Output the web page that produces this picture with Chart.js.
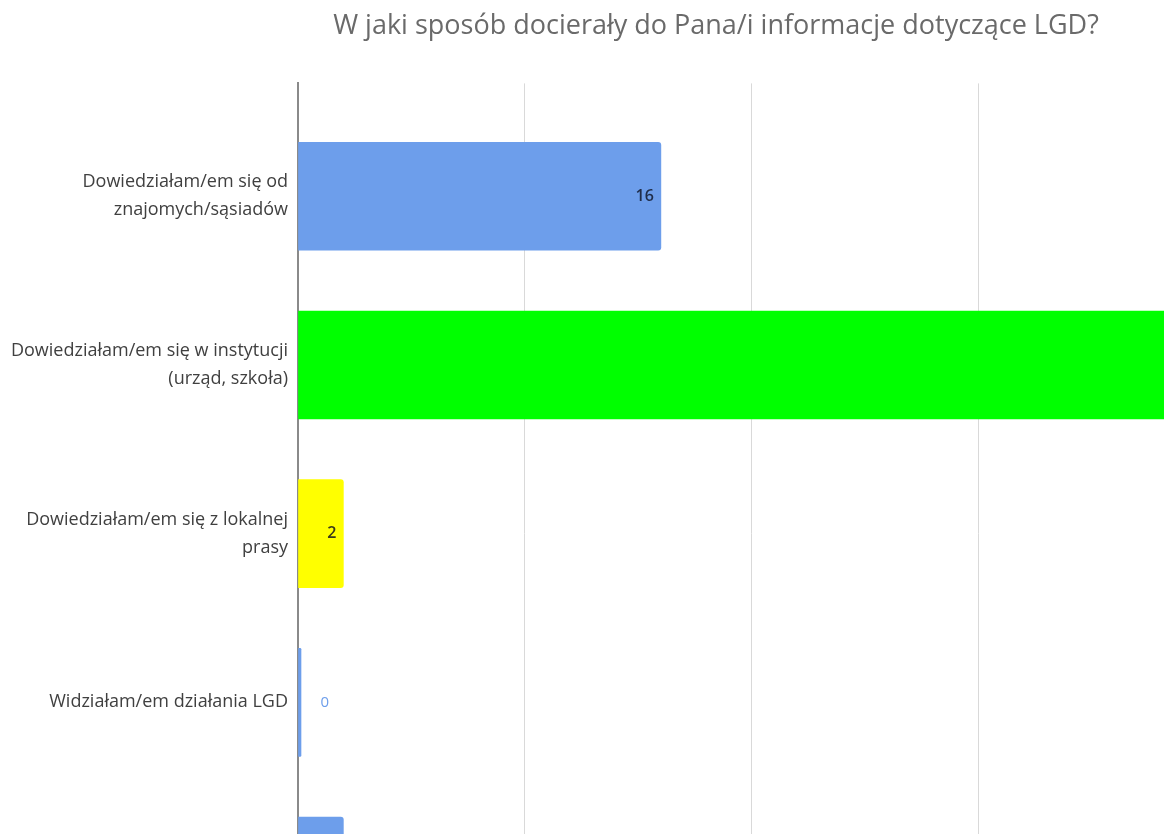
<!DOCTYPE html>
<html>
<head>
<meta charset="utf-8">
<title>W jaki sposób docierały do Pana/i informacje dotyczące LGD?</title>
<script src="https://cdn.jsdelivr.net/npm/chart.js@4.4.1/dist/chart.umd.min.js"></script>
<style>
  html, body { margin: 0; padding: 0; background: #fff; overflow: hidden; }
  #wrap { position: relative; width: 1432px; height: 1022px; }
</style>
</head>
<body>
<div id="wrap"><canvas id="chart"></canvas></div>
<script>
  var chartTitle = 'W jaki sposób docierały do Pana/i informacje dotyczące LGD?';
  var categories = [
    ['Dowiedziałam/em się od', 'znajomych/sąsiadów'],
    ['Dowiedziałam/em się w instytucji', '(urząd, szkoła)'],
    ['Dowiedziałam/em się z lokalnej', 'prasy'],
    ['Widziałam/em działania LGD'],
    ['Inne']
  ];
  var answers = [16, 44, 2, 0, 2];
  var barColors = ['#6d9eeb', '#00ff00', '#ffff00', '#6d9eeb', '#6d9eeb'];
  var labelColors = ['#1f2d4a', '#1f3a1f', '#3a3a1a', '#6d9eeb', '#1f2d4a'];

  var valueLabels = {
    id: 'valueLabels',
    afterDatasetsDraw: function (chart) {
      var ctx = chart.ctx;
      var meta = chart.getDatasetMeta(0);
      ctx.save();
      ctx.textBaseline = 'middle';
      meta.data.forEach(function (bar, i) {
        var v = answers[i];
        ctx.fillStyle = labelColors[i];
        if (v > 0) {
          ctx.font = '600 16px "Open Sans"';
          ctx.textAlign = 'right';
          ctx.fillText(String(v), bar.x - 7, bar.y);
        } else {
          ctx.font = '400 15px "Open Sans"';
          ctx.textAlign = 'left';
          ctx.fillText(String(v), bar.base + 22, bar.y);
        }
      });
      ctx.restore();
    }
  };

  new Chart(document.getElementById('chart'), {
    type: 'bar',
    data: {
      labels: categories,
      datasets: [{
        data: answers.map(function (v, i) { return { x: v, y: i }; }),
        backgroundColor: barColors,
        borderRadius: 3,
        borderSkipped: 'start',
        barThickness: 108,
        minBarLength: 3
      }]
    },
    options: {
      indexAxis: 'y',
      responsive: true,
      maintainAspectRatio: false,
      animation: false,
      layout: { padding: 0 },
      plugins: {
        legend: { display: false },
        tooltip: { enabled: false },
        title: {
          display: true,
          text: chartTitle,
          color: '#6a6a6a',
          font: { family: 'Open Sans', size: 27, weight: '400' },
          padding: { top: 10, bottom: 41 }
        }
      },
      scales: {
        x: {
          type: 'linear',
          min: 0,
          max: 50,
          ticks: { display: false, stepSize: 10 },
          grid: { color: '#d9d9d9', lineWidth: 1, drawTicks: false },
          border: { display: false }
        },
        y: {
          type: 'linear',
          reverse: true,
          offset: false,
          min: -0.669,
          max: 4.669,
          afterBuildTicks: function (scale) {
            scale.ticks = categories.map(function (c, i) { return { value: i }; });
          },
          afterFit: function (scale) { scale.width = 298; },
          ticks: {
            padding: 10,
            color: '#404040',
            font: { family: 'Open Sans', size: 18, lineHeight: 1.56 },
            callback: function (value) { return categories[value]; }
          },
          grid: { display: false, drawTicks: false, offset: false },
          border: { display: true, color: '#8a8a8a', width: 2 }
        }
      }
    },
    plugins: [valueLabels]
  });
</script>
</body>
</html>
